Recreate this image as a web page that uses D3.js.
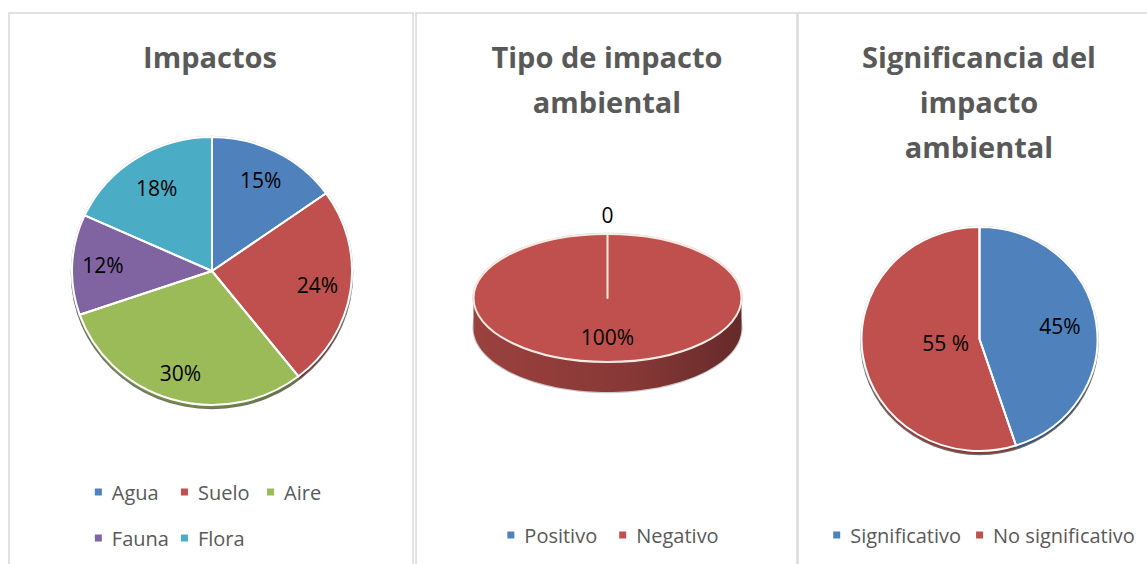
<!DOCTYPE html>
<html>
<head>
<meta charset="utf-8">
<script src="https://cdn.jsdelivr.net/npm/d3@7"></script>
<style>
  body { margin: 0; background: #fff; }
  text { font-family: "Open Sans", "DejaVu Sans", sans-serif; }
</style>
</head>
<body>
<div id="chart"></div>
<script>
// data
let impactCats = ["Agua", "Suelo", "Aire", "Fauna", "Flora"];
let impactVals = [15, 24, 30, 12, 18];
let impactLabels = ["15%", "24%", "30%", "12%", "18%"];

let tipoCats = ["Positivo", "Negativo"];
let tipoVals = [0, 100];
let tipoLabels = ["0", "100%"];

let sigCats = ["Significativo", "No significativo"];
let sigVals = [45, 55];
let sigLabels = ["45%", "55 %"];

let office = ["#4f81bd", "#c0504d", "#9bbb59", "#8064a2", "#4bacc6"];

let width = 1147, height = 564;

let svg = d3.select("#chart").append("svg")
  .attr("width", width)
  .attr("height", height);

let defs = svg.append("defs");

// panel frames
let panels = [
  { x: 9, w: 404 },
  { x: 416, w: 381 },
  { x: 798, w: 380 }
];
svg.selectAll("rect.panel")
  .data(panels)
  .enter().append("rect")
  .attr("class", "panel")
  .attr("x", d => d.x)
  .attr("y", 13)
  .attr("width", d => d.w)
  .attr("height", 600)
  .attr("fill", "#fff")
  .attr("stroke", "#d9d9d9")
  .attr("stroke-width", 1.5);

function title(lines, cx, y0) {
  svg.append("text")
    .attr("text-anchor", "middle")
    .attr("font-size", 29)
    .attr("font-weight", "bold")
    .attr("fill", "#595959")
    .selectAll("tspan")
    .data(lines)
    .enter().append("tspan")
    .attr("x", cx)
    .attr("y", (d, i) => y0 + i * 45)
    .text(d => d);
}

// point on the ellipse for a d3 pie angle (0 = top, clockwise)
function ept(a, rx, ry) {
  return [rx * Math.sin(a), -ry * Math.cos(a)];
}

let gradId = 0;

function pie3d(o) {
  let arcs = d3.pie().sort(null).value(d => d)(o.values);
  let g = svg.append("g").attr("transform", "translate(" + o.cx + "," + o.cy + ")");

  // grey rim behind everything
  g.append("ellipse").attr("cx", 0).attr("cy", o.depth)
    .attr("rx", o.rx + 1.2).attr("ry", o.ry + 1.2).attr("fill", o.depth > 10 ? "#c9c9c9" : "#6f6f6f");
  g.append("ellipse").attr("cx", 0).attr("cy", 0)
    .attr("rx", o.rx + 1.2).attr("ry", o.ry + 1.2).attr("fill", "#c9c9c9");

  // side wall, only for the front half
  arcs.forEach((d, i) => {
    let a0 = Math.max(d.startAngle, Math.PI / 2);
    let a1 = Math.min(d.endAngle, 3 * Math.PI / 2);
    if (a1 <= a0 || o.depth <= 0) return;
    let n = 80;
    let top = d3.range(n + 1).map(k => ept(a0 + (a1 - a0) * k / n, o.rx, o.ry));
    let bot = top.slice().reverse().map(p => [p[0], p[1] + o.depth]);
    let id = "side" + (gradId++);
    let base = d3.color(o.colors[i]);
    let lg = defs.append("linearGradient").attr("id", id)
      .attr("gradientUnits", "userSpaceOnUse")
      .attr("x1", -o.rx).attr("x2", o.rx).attr("y1", 0).attr("y2", 0);
    lg.append("stop").attr("offset", 0).attr("stop-color", base.darker(0.6));
    lg.append("stop").attr("offset", 0.6).attr("stop-color", base.darker(1.0));
    lg.append("stop").attr("offset", 1).attr("stop-color", base.darker(1.8));
    g.append("path")
      .attr("d", d3.line()(top.concat(bot)) + "Z")
      .attr("fill", "url(#" + id + ")");
  });

  // top face: fills first, then the white slice edges on top
  let arc = d3.arc().innerRadius(0).outerRadius(1);
  let face = g.append("g").attr("transform", "scale(" + o.rx + "," + o.ry + ")");
  face.selectAll("path.fill")
    .data(arcs)
    .enter().append("path")
    .attr("class", "fill")
    .attr("d", arc)
    .attr("fill", (d, i) => o.colors[i]);
  face.selectAll("path.edge")
    .data(arcs)
    .enter().append("path")
    .attr("class", "edge")
    .attr("d", arc)
    .attr("fill", "none")
    .attr("stroke", o.depth > 10 ? "#f7ece4" : "#fff")
    .attr("stroke-width", o.sliceStroke)
    .attr("stroke-linejoin", "round")
    .attr("vector-effect", "non-scaling-stroke");

  // labels
  g.selectAll("text.lbl")
    .data(arcs)
    .enter().append("text")
    .attr("class", "lbl")
    .attr("text-anchor", "middle")
    .attr("dy", "0.35em")
    .attr("font-size", 21)
    .attr("fill", "#000")
    .attr("x", (d, i) => ept((d.startAngle + d.endAngle) / 2, o.rx * o.labelR[i], o.ry * o.labelR[i])[0])
    .attr("y", (d, i) => ept((d.startAngle + d.endAngle) / 2, o.rx * o.labelR[i], o.ry * o.labelR[i])[1])
    .text((d, i) => o.labels[i]);
}

function legend(cats, colors, cx, rowsY, cols, gap) {
  let g = svg.append("g");
  let items = cats.map((c, i) => {
    let t = g.append("text").attr("font-size", 20).attr("fill", "#595959")
      .attr("dy", "0.35em").text(c);
    return { t: t, w: 17 + t.node().getComputedTextLength(), i: i };
  });
  let rows = d3.groups(items, d => Math.floor(d.i / cols)).map(r => r[1]);
  if (rows.length > 1) {
    // grid layout like excel when the legend wraps
    let colW = d3.max(items, d => d.w) + gap;
    let total = colW * (cols - 1) + d3.max(rows[0].slice(-1), d => d.w);
    let x0 = cx - total / 2;
    rows.forEach((r, ri) => r.forEach((it, ci) => place(it, x0 + ci * colW, rowsY[ri])));
  } else {
    let total = d3.sum(items, d => d.w) + gap * (items.length - 1);
    let x = cx - total / 2;
    items.forEach(it => { place(it, x, rowsY[0]); x += it.w + gap; });
  }
  function place(it, x, y) {
    g.append("rect").attr("x", x).attr("y", y - 3.5).attr("width", 7).attr("height", 7)
      .attr("fill", colors[it.i]);
    it.t.attr("x", x + 17).attr("y", y + 1);
  }
}

// panel 1
title(["Impactos"], 210, 68);
pie3d({
  values: impactVals, labels: impactLabels, colors: office,
  cx: 212, cy: 271, rx: 140, ry: 134, depth: 3, sliceStroke: 2,
  labelR: [0.76, 0.76, 0.8, 0.78, 0.73]
});
legend(impactCats, office, 208, [492, 538], 3, 12);

// panel 2
title(["Tipo de impacto", "ambiental"], 607, 68);
pie3d({
  values: tipoVals, labels: tipoLabels, colors: [office[0], office[1]],
  cx: 607.5, cy: 298, rx: 134, ry: 64, depth: 30, sliceStroke: 2,
  labelR: [1.28, 0.62]
});
legend(tipoCats, [office[0], office[1]], 613, [535], 2, 22);

// panel 3
title(["Significancia del", "impacto", "ambiental"], 979, 68);
pie3d({
  values: sigVals, labels: sigLabels, colors: [office[0], office[1]],
  cx: 979.5, cy: 339, rx: 118, ry: 112, depth: 3, sliceStroke: 2,
  labelR: [0.69, 0.29]
});
legend(sigCats, [office[0], office[1]], 984, [535], 2, 15);
</script>
</body>
</html>
